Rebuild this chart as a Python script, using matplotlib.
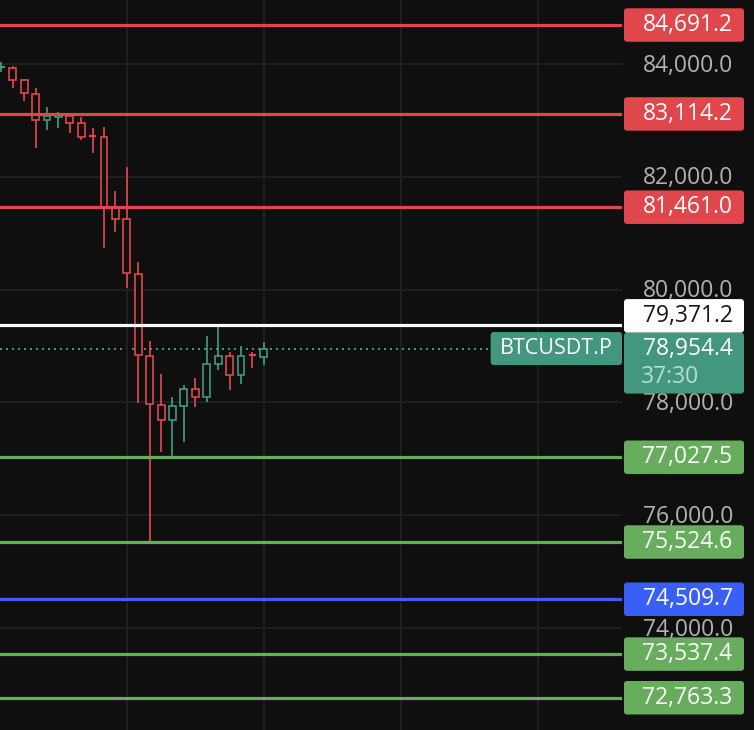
import matplotlib.pyplot as plt
from matplotlib.patches import Rectangle, FancyBboxPatch
from matplotlib.ticker import MultipleLocator

# candle data (oldest -> newest)
opens = [83940, 83934, 83711, 83473, 83007, 83060, 83083, 82949, 82732, 82700,
         81438, 81247, 80277, 78828, 77960, 77683, 77931, 78232, 78091, 78676,
         78828, 78481, 78849, 78800]
highs = [84035, 83970, 83734, 83580, 83243, 83149, 83096, 83066, 82871, 82888,
         81754, 82168, 80484, 79089, 78504, 78101, 78309, 78433, 79178, 79372,
         78889, 78995, 78899, 79071]
lows = [83860, 83580, 83349, 82516, 82830, 82871, 82782, 82653, 82427, 80743,
        81027, 80034, 77995, 75524.6, 77126, 77027.5, 77303, 77924, 78013, 78580,
        78225, 78332, 78616, 78669]
closes = [83952, 83716, 83480, 83007, 83078, 83108, 82949, 82711, 82723, 81465,
          81247, 80289, 78841, 77967, 77683, 77931, 78232, 78096, 78676, 78828,
          78481, 78828, 78841, 78954.4]

level_prices = [84691.2, 83114.2, 81461.0, 79371.2, 77027.5, 75524.6, 74509.7, 73537.4, 72763.3]
level_kinds = ["res", "res", "res", "ref", "sup", "sup", "mid", "sup", "sup"]

symbol = "BTCUSDT.P"
last_price = 78954.4
countdown = "37:30"

BG = "#0f0f0f"
GRID = "#202020"
UP = "#3f9a83"
DOWN = "#e0474c"
TEAL = "#43977f"
kind_color = {"res": "#e0474c", "ref": "#ffffff", "sup": "#68ad5e", "mid": "#3a5ff6"}
kind_text = {"res": "white", "ref": "#131722", "sup": "white", "mid": "white"}

W, H = 754, 730
PLOT_W = 622
ymin, ymax = 72191.5, 85134.8
upp = (ymax - ymin) / H  # price per pixel

plt.rcParams["font.family"] = ["Open Sans", "DejaVu Sans"]

fig = plt.figure(figsize=(W / 100, H / 100), dpi=100)
fig.patch.set_facecolor(BG)

ax = fig.add_axes([0, 0, PLOT_W / W, 1])
ax.set_facecolor(BG)
ax.set_xlim(-0.12, 54.4)
ax.set_ylim(ymin, ymax)
ax.set_xticks([11, 23, 35, 47])
ax.yaxis.set_major_locator(MultipleLocator(2000))
ax.grid(True, color=GRID, lw=1.4)
ax.tick_params(length=0, labelleft=False, labelbottom=False)
for s in ax.spines.values():
    s.set_visible(False)

# hollow candles
bw = 0.6
for i, (o, h, l, c) in enumerate(zip(opens, highs, lows, closes)):
    col = UP if c >= o else DOWN
    ax.vlines(i, l, h, color=col, lw=1.25, zorder=2)
    if abs(c - o) < 20:
        ax.hlines((o + c) / 2, i - bw / 2, i + bw / 2, color=col, lw=1.5, zorder=3)
    else:
        ax.add_patch(Rectangle((i - bw / 2, min(o, c)), bw, abs(c - o),
                               fc=BG, ec=col, lw=1.2, zorder=3))

# horizontal levels
for p, k in zip(level_prices, level_kinds):
    ax.axhline(p, color=kind_color[k], lw=2.3, zorder=4)

tag_left = 490.7
ax.axhline(last_price, xmax=tag_left / PLOT_W, color=TEAL, lw=1.44,
           ls=(0, (1, 2)), zorder=1)

# overlay in pixel x / price y for the price scale
ov = fig.add_axes([0, 0, 1, 1])
ov.set_xlim(0, W)
ov.set_ylim(ymin, ymax)
ov.axis("off")
ov.patch.set_visible(False)

fs = 16.5
for t in ax.get_yticks():
    if ymin < t < ymax:
        ov.text(733, t - 1.5 * upp, f"{t:,.1f}", ha="right", va="center", color="#b2b2b2",
                fontsize=fs, zorder=1)

box_x, box_w = 624, 120
box_h = 33.5 * upp


def tag(x, y_center, w, h, color, top_h=None):
    y0 = y_center - h / 2 if top_h is None else top_h - h
    ov.add_patch(FancyBboxPatch((x, y0), w, h, boxstyle="round,pad=0,rounding_size=3",
                                mutation_aspect=upp, fc=color, ec="none", zorder=3))


# last price tag (two rows)
lp_top = last_price + 16 * upp
tag(box_x, 0, box_w, 61 * upp, TEAL, top_h=lp_top)
ov.text(732.5, last_price, f"{last_price:,.1f}", ha="right", va="center",
        color="white", fontsize=fs, zorder=4)
ov.text(641, last_price - 28 * upp, countdown, ha="left", va="center",
        color="#b9ddd2", fontsize=fs, zorder=4)

# symbol tag on the chart
tag(tag_left, last_price, PLOT_W - tag_left, 33 * upp, TEAL)
ov.text((tag_left + PLOT_W) / 2, last_price, symbol, ha="center", va="center",
        color="white", fontsize=15.5, zorder=4)

for p, k in zip(level_prices, level_kinds):
    yc = p
    if k == "ref":
        yc = max(p, lp_top + box_h / 2)
    tag(box_x, yc, box_w, box_h, kind_color[k])
    ov.text(732.5, yc, f"{p:,.1f}", ha="right", va="center",
            color=kind_text[k], fontsize=fs, zorder=4)

fig.savefig("out.png", dpi=100, facecolor=BG)
